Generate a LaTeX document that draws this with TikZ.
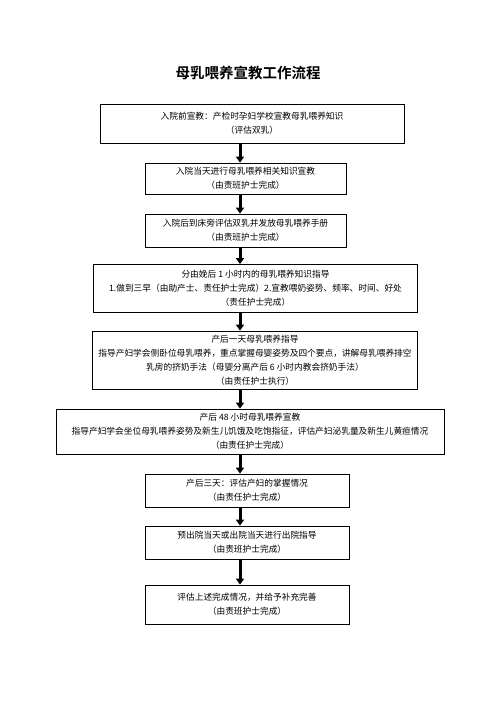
\documentclass[tikz,border=0pt]{standalone}
\usepackage{fontspec}
\setmainfont{Noto Sans CJK SC}
\newfontfamily\titlefont{Noto Sans CJK SC Bold}
\usetikzlibrary{arrows.meta}
\tikzset{
  box/.style={draw=black, line width=0.8pt, rectangle, align=center, inner sep=0pt,
              font=\fontsize{8.7}{14}\selectfont},
  arr/.style={line width=3pt, -{Triangle[width=8pt,length=6pt]}},
}
\begin{document}
\begin{tikzpicture}[x=1pt,y=1pt]
\useasboundingbox[fill=white] (0,0) rectangle (496,-702);
\node[font=\titlefont\fontsize{14.5}{16}\selectfont] (title) at (248,-73) {母乳喂养宣教工作流程};
\coordinate (ax) at (240,0);
\node[box, minimum width=304, minimum height=39] (b1) at (252,-123.5)
  {入院前宣教：产检时孕妇学校宣教母乳喂养知识\\（评估双乳）};
\node[box, minimum width=201, minimum height=31] (b2) at (245.5,-178.5)
  {入院当天进行母乳喂养相关知识宣教\\（由责班护士完成）};
\node[box, minimum width=201, minimum height=33] (b3) at (245.5,-230.5)
  {入院后到床旁评估双乳并发放母乳喂养手册\\（由责班护士完成）};
\node[box, minimum width=324, minimum height=48] (b4) at (255.5,-288.5)
  {分由娩后 1 小时内的母乳喂养知识指导\\1.做到三早（由助产士、责任护士完成）2.宣教喂奶姿势、频率、时间、好处\\（责任护士完成）};
\node[box, minimum width=325, minimum height=58] (b5) at (255,-360)
  {产后一天母乳喂养指导\\指导产妇学会侧卧位母乳喂养，重点掌握母婴姿势及四个要点，讲解母乳喂养排空\\乳房的挤奶手法（母婴分离产后 6 小时内教会挤奶手法）\\（由责任护士执行）};
\node[box, minimum width=388, minimum height=45] (b6) at (250,-431.5)
  {产后 48 小时母乳喂养宣教\\指导产妇学会坐位母乳喂养姿势及新生儿饥饿及吃饱指征，评估产妇泌乳量及新生儿黄疸情况\\（由责任护士完成）};
\node[box, minimum width=204, minimum height=33] (b7) at (247,-490.5)
  {产后三天：评估产妇的掌握情况\\（由责任护士完成）};
\node[box, minimum width=204, minimum height=33] (b8) at (247,-542.5)
  {预出院当天或出院当天进行出院指导\\（由责班护士完成）};
\node[box, minimum width=204, minimum height=39] (b9) at (247,-604.5)
  {评估上述完成情况，并给予补充完善\\（由责班护士完成）};
\foreach \a/\b in {b1/b2,b2/b3,b3/b4,b4/b5,b5/b6,b6/b7,b7/b8,b8/b9}
  \draw[arr] (\a.south -| ax) -- (\b.north -| ax);
\end{tikzpicture}
\end{document}
